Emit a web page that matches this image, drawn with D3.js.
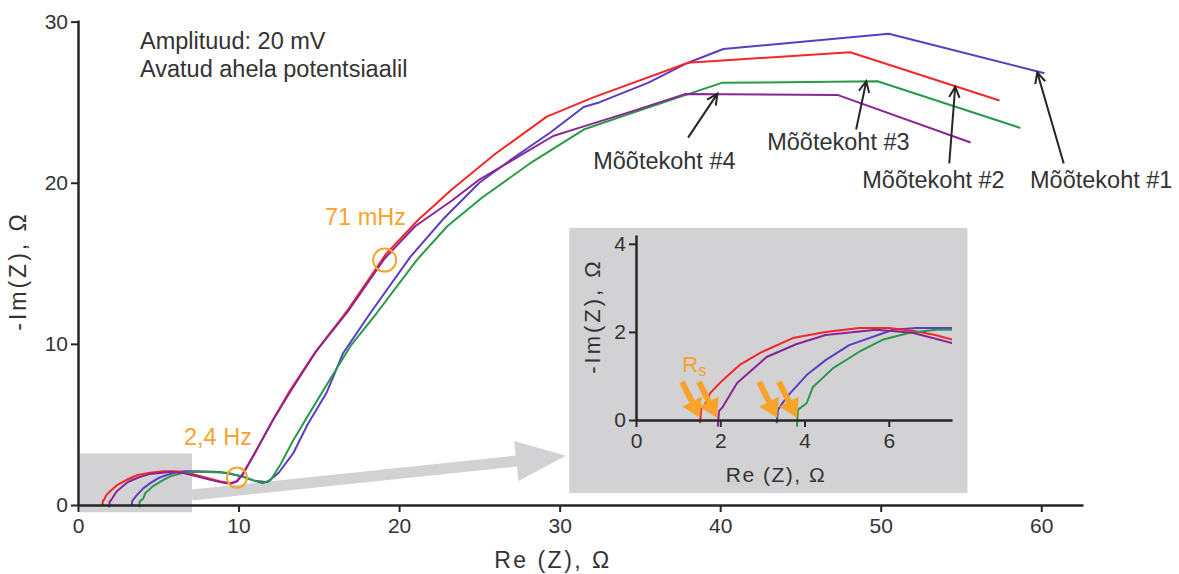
<!DOCTYPE html>
<html>
<head>
<meta charset="utf-8">
<script src="https://cdn.jsdelivr.net/npm/d3@7"></script>
<style>
  body { margin: 0; background: #fff; }
  text { font-family: "Liberation Sans", Arial, sans-serif; }
</style>
</head>
<body>
<div id="chart"></div>
<script>
// impedance spectra, points are [Re(Z), -Im(Z)] in ohm
var site1 = [[3.34,-0.07],[3.37,0.23],[3.45,0.35],[3.65,0.6],[4.05,1.02],[4.5,1.36],[5.06,1.7],[6.1,2.05],[6.65,2.09],[7.37,2.09],[8.0,2.08],[8.85,2.05],[9.6,1.9],[10.3,1.75],[11.0,1.5],[11.8,1.42],[12.5,2.0],[13.4,3.2],[14.3,5.0],[15.5,7.0],[16.5,9.4],[18.2,11.9],[20.7,15.4],[22.8,17.8],[25.0,20.0],[27.2,21.6],[29.4,23.1],[31.5,24.7],[32.5,25.0],[35.5,26.2],[38.0,27.45],[40.2,28.3],[50.5,29.25],[60.2,26.8]];
var site2 = [[1.52,-0.07],[1.55,0.27],[1.62,0.32],[1.75,0.6],[2.0,0.85],[2.46,1.25],[3.0,1.55],[3.72,1.86],[4.5,2.0],[5.3,2.09],[6.0,2.09],[6.6,2.02],[7.1,1.93],[8.0,1.7],[8.8,1.48],[9.5,1.35],[9.9,1.5],[10.3,2.0],[11.0,3.2],[12.1,5.2],[13.2,7.1],[14.8,9.5],[16.8,12.1],[19.2,15.6],[21.2,17.7],[23.3,19.6],[26.0,21.8],[29.2,24.1],[32.1,25.3],[38.0,27.45],[48.1,28.1],[57.4,25.1]];
var site3 = [[3.82,-0.15],[3.84,0.23],[4.05,0.38],[4.2,0.75],[4.67,1.17],[5.3,1.55],[5.85,1.82],[6.5,1.98],[7.13,2.05],[8.0,2.05],[9.3,2.0],[10.3,1.75],[11.0,1.5],[11.5,1.35],[12.0,1.55],[12.6,2.5],[13.4,4.0],[14.3,5.5],[15.7,7.8],[17.0,9.9],[18.6,11.9],[21.1,15.2],[23.0,17.3],[25.2,19.1],[28.3,21.3],[31.5,23.3],[34.4,24.3],[40.1,26.2],[49.8,26.3],[58.7,23.4]];
var site4 = [[1.94,-0.15],[1.97,0.2],[2.06,0.3],[2.4,0.84],[3.1,1.43],[3.8,1.72],[4.5,1.93],[5.7,2.05],[6.56,1.98],[7.5,1.75],[8.3,1.55],[9.0,1.4],[9.5,1.32],[9.9,1.45],[10.3,1.95],[11.0,3.2],[12.1,5.2],[13.2,7.0],[14.8,9.5],[16.8,12.0],[19.1,15.3],[21.0,17.3],[23.3,18.9],[25.0,20.2],[27.4,21.6],[29.6,22.9],[31.5,23.5],[34.4,24.4],[37.8,25.5],[47.3,25.45],[55.6,22.5]];

var seriesData = [site1, site2, site3, site4];
var seriesNames = ["Mõõtekoht #1", "Mõõtekoht #2", "Mõõtekoht #3", "Mõõtekoht #4"];
var seriesColors = ["#5b3cc4", "#f4262a", "#2a9a48", "#8a2596"];

var xTicks = [0, 10, 20, 30, 40, 50, 60];
var yTicks = [0, 10, 20, 30];
var insetXTicks = [0, 2, 4, 6];
var insetYTicks = [0, 2, 4];

// series resistance read in the inset, ohm
var rsValues = [1.52, 1.92, 3.35, 3.82];

// frequency markers [Re, -Im, label]
var freqMarks = [[9.9, 1.7, "2,4 Hz"], [19.1, 15.2, "71 mHz"]];

// label anchor (Re, -Im), arrow tail, arrow tip on the curve
var labelPos = [[59.3, 19.7], [48.85, 19.7], [42.93, 22.05], [32.09, 20.87]];
var arrowTail = [[61.4, 21.2], [54.27, 21.2], [48.47, 23.3], [38.0, 22.8]];
var arrowTip = [[59.75, 26.85], [54.64, 25.96], [49.1, 26.3], [39.83, 25.53]];

var ink = "#262626", orange = "#f7a32c", gray = "#d2d2d4";

var width = 1179, height = 574;
var svg = d3.select("#chart").append("svg")
    .attr("width", width).attr("height", height);

var x = d3.scaleLinear().domain([0, 62.6]).range([78, 1083]);
var y = d3.scaleLinear().domain([0, 30.1]).range([505, 20]);

var line = d3.line()
    .x(function(d) { return x(d[0]); })
    .y(function(d) { return y(d[1]); });

// zoom box around the high-frequency part
svg.append("rect")
    .attr("x", x(0.1)).attr("y", y(3.2))
    .attr("width", x(7.1) - x(0.1)).attr("height", y(-0.45) - y(3.2))
    .attr("fill", gray);

// inset panel
var inset = {left: x(30.6), top: y(17.2), right: x(55.4), bottom: y(0.75)};
svg.append("rect")
    .attr("x", inset.left).attr("y", inset.top)
    .attr("width", inset.right - inset.left).attr("height", inset.bottom - inset.top)
    .attr("fill", gray);

// big gray arrow from box to inset
(function() {
  var x0 = x(7.1), y0 = y(0.62), x1 = x(27.3), y1 = y(2.73);
  var len = Math.hypot(x1 - x0, y1 - y0), ux = (x1 - x0) / len, uy = (y1 - y0) / len;
  var px = -uy, py = ux, hw = 5.5, hh = 20, hl = 50;
  var pts = [
    [x0 + px * hw, y0 + py * hw], [x1 + px * hw, y1 + py * hw], [x1 + px * hh, y1 + py * hh],
    [x1 + ux * hl, y1 + uy * hl],
    [x1 - px * hh, y1 - py * hh], [x1 - px * hw, y1 - py * hw], [x0 - px * hw, y0 - py * hw]
  ];
  svg.append("polygon").attr("points", pts.map(function(p) { return p.join(","); }).join(" "))
      .attr("fill", gray);
})();

// main curves
svg.append("g").selectAll("path")
  .data(seriesData)
  .enter().append("path")
    .attr("d", line)
    .attr("fill", "none")
    .attr("stroke", function(d, i) { return seriesColors[i]; })
    .attr("stroke-width", 2)
    .attr("stroke-linejoin", "round");

// axes
function styleAxis(g, size) {
  g.select(".domain").attr("stroke", ink).attr("stroke-width", 2.5);
  g.selectAll(".tick line").attr("stroke", ink).attr("stroke-width", 2);
  g.selectAll(".tick text").attr("fill", "#333").style("font-size", size + "px")
      .style("font-family", "'Liberation Sans', Arial, sans-serif");
}
svg.append("g")
    .attr("transform", "translate(0," + y(0) + ")")
    .call(d3.axisBottom(x).tickValues(xTicks).tickSize(7).tickSizeOuter(0).tickPadding(6))
    .call(styleAxis, 21);
svg.append("g")
    .attr("transform", "translate(" + x(0) + ",0)")
    .call(d3.axisLeft(y).tickValues(yTicks).tickSize(7).tickSizeOuter(0).tickPadding(3))
    .call(styleAxis, 21);

svg.append("text")
    .attr("x", 553).attr("y", 568)
    .attr("text-anchor", "middle")
    .style("font-size", "23px").style("letter-spacing", "2.5px").attr("fill", "#333")
    .text("Re (Z), Ω");
svg.append("text")
    .attr("transform", "translate(26,271) rotate(-90)")
    .attr("text-anchor", "middle")
    .style("font-size", "23px").style("letter-spacing", "3px").attr("fill", "#333")
    .text("-Im(Z), Ω");

// conditions note
svg.append("text").attr("x", 140).attr("y", 49)
    .style("font-size", "23.5px").attr("fill", "#333").text("Amplituud: 20 mV");
svg.append("text").attr("x", 140).attr("y", 77)
    .style("font-size", "23.5px").attr("fill", "#333").text("Avatud ahela potentsiaalil");

// frequency markers
freqMarks.forEach(function(f, i) {
  svg.append("circle")
      .attr("cx", x(f[0])).attr("cy", y(f[1])).attr("r", i === 0 ? 10 : 11.5)
      .attr("fill", "none").attr("stroke", orange).attr("stroke-width", 2);
});
svg.append("text").attr("x", 184).attr("y", 445)
    .style("font-size", "23.5px").attr("fill", orange).text(freqMarks[0][2]);
svg.append("text").attr("x", 325).attr("y", 225)
    .style("font-size", "23.5px").attr("fill", orange).text(freqMarks[1][2]);

// series labels with arrows
seriesNames.forEach(function(name, i) {
  svg.append("text")
      .attr("x", x(labelPos[i][0])).attr("y", y(labelPos[i][1]))
      .style("font-size", "23.5px").attr("fill", "#333")
      .text(name);
  var tx = x(arrowTail[i][0]), ty = y(arrowTail[i][1]);
  var hx = x(arrowTip[i][0]), hy = y(arrowTip[i][1]);
  var ang = Math.atan2(ty - hy, tx - hx), a = 0.45, l = 12;
  svg.append("path")
      .attr("d", "M" + tx + "," + ty + "L" + hx + "," + hy +
        "M" + (hx + l * Math.cos(ang + a)) + "," + (hy + l * Math.sin(ang + a)) +
        "L" + hx + "," + hy +
        "L" + (hx + l * Math.cos(ang - a)) + "," + (hy + l * Math.sin(ang - a)))
      .attr("fill", "none").attr("stroke", ink).attr("stroke-width", 2);
});

// ---- inset ----
var xi = d3.scaleLinear().domain([0, 7.5]).range([636, 952]);
var yi = d3.scaleLinear().domain([0, 4.2]).range([420, 235]);

svg.append("clipPath").attr("id", "insetClip")
  .append("rect").attr("x", xi(0)).attr("y", yi(4.2))
    .attr("width", xi(7.5) - xi(0)).attr("height", yi(-0.3) - yi(4.2));

var lineI = d3.line()
    .x(function(d) { return xi(d[0]); })
    .y(function(d) { return yi(d[1]); });

svg.append("g").attr("clip-path", "url(#insetClip)")
  .selectAll("path")
  .data(seriesData)
  .enter().append("path")
    .attr("d", lineI)
    .attr("fill", "none")
    .attr("stroke", function(d, i) { return seriesColors[i]; })
    .attr("stroke-width", 2)
    .attr("stroke-linejoin", "round");

svg.append("g")
    .attr("transform", "translate(0," + yi(0) + ")")
    .call(d3.axisBottom(xi).tickValues(insetXTicks).tickFormat(d3.format("d"))
      .tickSize(7).tickSizeOuter(0).tickPadding(6))
    .call(styleAxis, 21);
svg.append("g")
    .attr("transform", "translate(" + xi(0) + ",0)")
    .call(d3.axisLeft(yi).tickValues(insetYTicks).tickFormat(d3.format("d"))
      .tickSize(7).tickSizeOuter(0).tickPadding(3))
    .call(styleAxis, 21);

svg.append("text")
    .attr("x", 776).attr("y", 482)
    .attr("text-anchor", "middle")
    .style("font-size", "21px").style("letter-spacing", "1.5px").attr("fill", "#333")
    .text("Re (Z), Ω");
svg.append("text")
    .attr("transform", "translate(600,316) rotate(-90)")
    .attr("text-anchor", "middle")
    .style("font-size", "22px").style("letter-spacing", "3px").attr("fill", "#333")
    .text("-Im(Z), Ω");

// Rs arrows
rsValues.forEach(function(r) {
  var hx = xi(r), hy = yi(0.05);
  var tx = hx - 18, ty = hy - 36;
  var len = Math.hypot(hx - tx, hy - ty), ux = (hx - tx) / len, uy = (hy - ty) / len;
  var px = -uy, py = ux, sw = 3, hw = 11, hl = 18;
  var bx = hx - ux * hl, by = hy - uy * hl;
  var pts = [
    [tx + px * sw, ty + py * sw], [bx + px * sw, by + py * sw], [bx + px * hw, by + py * hw],
    [hx, hy],
    [bx - px * hw, by - py * hw], [bx - px * sw, by - py * sw], [tx - px * sw, ty - py * sw]
  ];
  svg.append("polygon").attr("points", pts.map(function(p) { return p.join(","); }).join(" "))
      .attr("fill", orange);
});
var rs = svg.append("text").attr("x", xi(1.1)).attr("y", 372)
    .style("font-size", "22px").attr("fill", orange);
rs.append("tspan").text("R");
rs.append("tspan").attr("dy", 4).style("font-size", "17px").text("s");
</script>
</body>
</html>
